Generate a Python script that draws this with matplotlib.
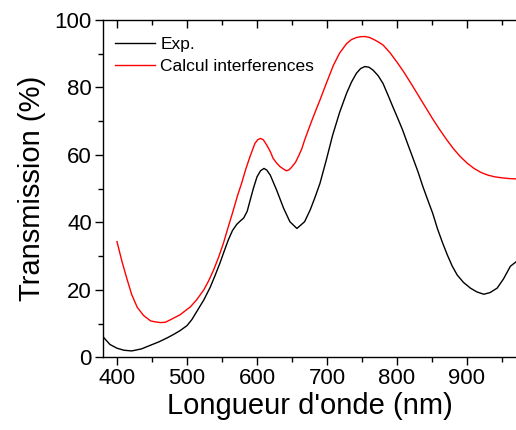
import matplotlib.pyplot as plt
from matplotlib.ticker import MultipleLocator

plt.rcParams['font.family'] = ['Liberation Sans', 'DejaVu Sans']

# experimental transmission (black)
exp_wl = [380, 390, 400, 410, 421, 435, 448, 460, 472, 481, 490, 500, 507, 514, 524,
          533, 540, 547, 553, 559, 565, 571, 576, 581, 586, 590, 595, 600, 605, 610,
          614, 619, 628, 638, 647, 657, 668, 676, 683, 690, 699, 708, 718, 728, 735,
          742, 748, 754, 760, 766, 773, 780, 787, 794, 801, 808, 815, 822, 830, 837,
          844, 851, 858, 865, 872, 879, 886, 895, 905, 914, 924, 933, 943, 952, 962,
          970]
exp_t = [6.1, 3.8, 2.7, 2.1, 1.9, 2.5, 3.6, 4.6, 5.8, 6.8, 7.9, 9.4, 11.2, 13.6, 17.0,
         20.7, 24.2, 27.9, 31.4, 34.8, 37.6, 39.4, 40.4, 41.3, 43.3, 46.4, 50.2, 53.5, 55.3, 56.0,
         55.5, 54.0, 49.6, 44.2, 40.2, 38.2, 40.2, 43.7, 47.5, 51.6, 58.5, 65.8, 72.6, 78.3, 81.6,
         84.2, 85.6, 86.2, 86.0, 85.1, 83.5, 81.2, 77.8, 74.3, 70.9, 67.4, 63.4, 59.5, 55.0, 50.6,
         46.6, 42.7, 38.0, 34.0, 30.3, 27.0, 24.4, 22.2, 20.5, 19.4, 18.7, 19.2, 20.5, 23.2, 27.0,
         28.3]

# interference calculation (red)
calc_wl = [400, 407, 414, 421, 429, 438, 448, 455, 462, 469, 476, 490, 505, 514, 524,
           531, 538, 545, 552, 559, 566, 572, 578, 584, 590, 597, 601, 605, 609, 614,
           619, 623, 628, 633, 638, 642, 646, 650, 655, 659, 664, 668, 673, 678, 684,
           690, 699, 709, 718, 728, 735, 742, 748, 754, 761, 768, 774, 780, 790, 800,
           810, 820, 830, 840, 850, 860, 870, 880, 890, 900, 910, 920, 930, 940, 950,
           960, 969]
calc_t = [34.3, 28.5, 23.4, 18.6, 14.8, 12.4, 10.8, 10.5, 10.3, 10.4, 11.1, 12.6, 15.0, 17.1, 20.0,
          22.7, 25.9, 29.6, 33.8, 38.7, 43.5, 47.8, 51.6, 55.8, 59.5, 63.4, 64.5, 64.9, 64.5, 62.9,
          61.0, 59.0, 57.6, 56.5, 55.8, 55.3, 55.6, 56.5, 57.8, 59.5, 61.8, 64.4, 67.2, 70.0, 73.2,
          76.3, 81.2, 86.5, 90.2, 93.0, 94.2, 94.8, 95.05, 95.1, 94.8, 94.1, 93.4, 92.6, 90.3, 87.5,
          84.5, 81.2, 77.8, 74.4, 71.0, 67.8, 64.8, 62.0, 59.6, 57.6, 56.0, 54.8, 54.0, 53.5, 53.2,
          53.0, 52.9]

fig = plt.figure(figsize=(5.16, 4.30), dpi=100)
ax = fig.add_axes([0.1996, 0.169, 0.8004, 0.7845])

ax.plot(exp_wl, exp_t, color='black', lw=1.0, label='Exp.')
ax.plot(calc_wl, calc_t, color='red', lw=1.0, label='Calcul interferences')

ax.set_xlim(380, 970)
ax.set_ylim(0, 100)
ax.xaxis.set_major_locator(MultipleLocator(100))
ax.xaxis.set_minor_locator(MultipleLocator(50))
ax.yaxis.set_major_locator(MultipleLocator(20))
ax.yaxis.set_minor_locator(MultipleLocator(10))

ax.spines['right'].set_visible(False)
for s in ['left', 'top', 'bottom']:
    ax.spines[s].set_linewidth(1.0)

ax.tick_params(axis='both', which='major', length=6, width=1.0, labelsize=16, pad=2)
ax.tick_params(axis='both', which='minor', length=3.5, width=1.0)
ax.tick_params(axis='x', which='both', top=True, direction='out')
# top ticks point into the plot
for t in ax.xaxis.get_major_ticks() + ax.xaxis.get_minor_ticks():
    t.tick2line.set_marker(3)

ax.set_xlabel("Longueur d'onde (nm)", fontsize=21, labelpad=2)
ax.set_ylabel("Transmission (%)", fontsize=21, labelpad=6)

ax.legend(loc='upper left', bbox_to_anchor=(0.0, 0.985), frameon=False, fontsize=12.5,
          handlelength=2.3, handletextpad=0.3, labelspacing=0.38, borderaxespad=0.3)

plt.savefig('out.png', dpi=100)
